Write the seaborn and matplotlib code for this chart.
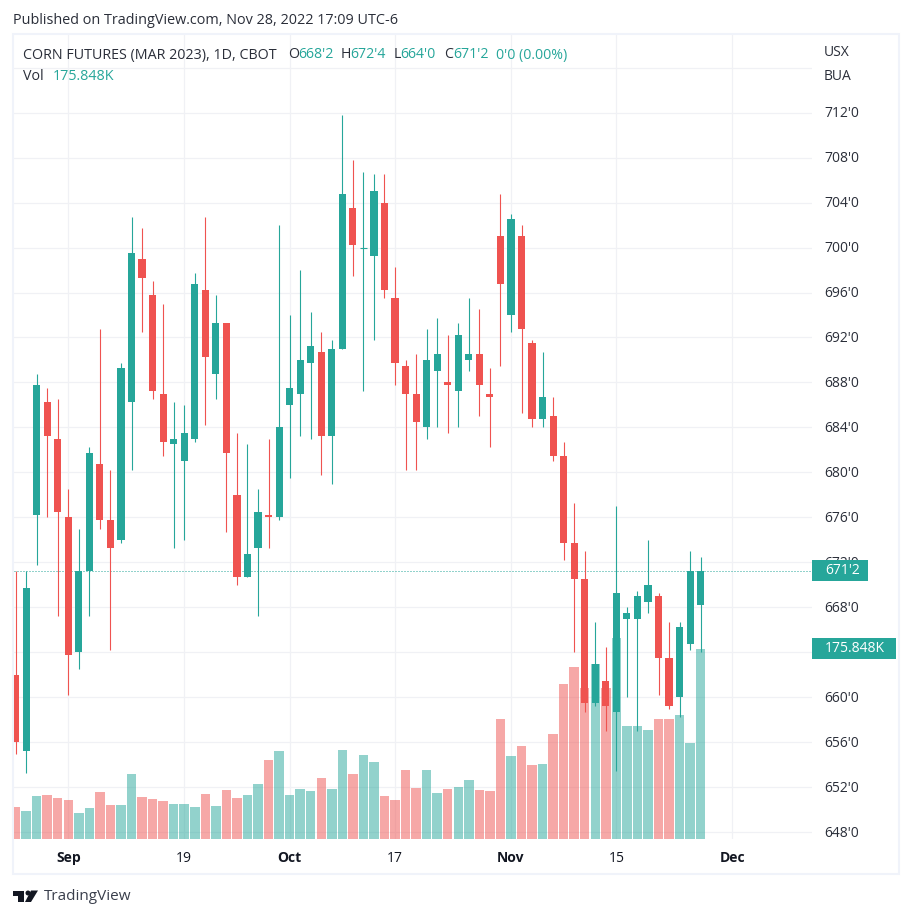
import numpy as np
import pandas as pd
import matplotlib
matplotlib.use("Agg")
import matplotlib.pyplot as plt
from matplotlib.patches import Rectangle, Polygon, Circle
from matplotlib.transforms import IdentityTransform, ScaledTranslation
import seaborn as sns

opens = [662,655.25,676.25,686.25,683,676,664,671.25,680.75,675.75,674,686.25,699,695.75,687,682.5,681,683,696.25,688.75,
         693.25,678,670.75,673.25,676.25,676,686,687,689.75,690.75,683.25,691,703.5,700,699.25,704,695.5,689.5,687,684,
         689,688,687.25,690,690.5,687,701,694,701,691.5,684.75,685,681.5,673.75,670.5,659.5,661.5,658.75,667,667,
         668.5,669,663.5,660,664.75,668.25]
closes = [656,669.75,687.75,683.25,676.5,663.75,671.25,681.75,675.75,673.25,689.25,699.5,697.25,687.25,682.75,683,683.5,696.75,690.25,693.25,
          681.75,670.75,672.75,676.5,676,684,687.5,690,691.25,683.25,691,704.75,700.25,700,705,696.25,689.75,687,684.5,690,
          690.5,687.75,692.25,690.5,687.75,686.75,696.75,702.5,692.75,684.75,686.75,681.5,673.75,670.5,659.5,663,659.25,669.25,667.5,669,
          670,663.5,659.25,666.25,671.25,671.25]
highs = [671.25,671.25,688.75,687.5,686.5,678.5,675,682.25,692.75,680.25,689.75,702.75,701.75,697,695,686.25,686,697.75,702.75,695.75,
         693.25,683.5,682.5,678.5,683,702,694,698,694.25,692.5,691.75,711.75,707.75,706.75,706.5,706.5,698.25,690,690.5,692.75,
         693.75,692.25,693.25,695.5,694.5,689.25,704.75,703,702,691.75,690.75,686.75,682.75,677.25,673,666.75,664.5,677,668,669.5,
         674,669.25,666.75,666.75,673,672.5]
lows = [655,653.25,671.75,676,667.25,660.25,662.5,667.25,675,664.25,673.75,680.25,692.5,686.5,681.5,673.25,674,682.75,684.25,686.5,
        674.75,670,670.75,667.25,673.25,675.75,679.5,683.25,683,679.75,679,691,697.5,687.25,691.75,695.5,687.75,680.25,680.25,683,
        684,683.5,684,689,685,682.25,689.5,692.5,685.25,684,684,681,672.25,664,658.75,659.25,657,653.5,660,657,
        667.5,660.25,659,658.25,664.25,664]
volumes_k = [29.6,25.9,39.8,40.7,37.9,36.1,24.1,28.7,43.5,31.5,31.5,60.2,38.9,37.0,35.2,32.4,32.4,29.6,41.6,30.5,
             45.3,37.9,40.7,50.9,73.1,81.4,40.7,46.3,44.4,56.5,46.3,82.4,60.2,77.7,71.3,39.8,36.1,63.9,47.2,63.9,
             42.6,46.3,48.1,54.6,45.3,44.4,111.1,76.8,86.1,68.5,69.4,97.2,143.5,159.2,139.8,162,139.8,186,104.6,104.6,
             100.9,111.1,111.1,114.8,88.8,175.848]

tick_index = [5, 16, 26, 36, 47, 57, 68]
tick_text = ["Sep", "19", "Oct", "17", "Nov", "15", "Dec"]
tick_bold = [True, False, True, False, True, False, True]
price_ticks = list(range(648, 717, 4))
hidden_price_labels = [716, 664]
last_price = 671.25
last_volume = 175.848

UP, DOWN = "#26a69a", "#ef5350"
INK, GRID, BORDER = "#131722", "#f0f1f5", "#f0f3fa"
TEXT = "#2a2e39"
FONT = ["Open Sans", "DejaVu Sans"]
W, H = 912, 918

sns.set_theme(style="white")
plt.rcParams["font.family"] = FONT

df = pd.DataFrame({"i": np.arange(len(opens)), "open": opens, "close": closes,
                   "high": highs, "low": lows, "vol": volumes_k})
df["dir"] = np.where(df["close"] >= df["open"], "up", "down")
colors = df["dir"].map({"up": UP, "down": DOWN}).tolist()

fig = plt.figure(figsize=(W / 100, H / 100), dpi=100, facecolor="white")
rect = [14 / W, 1 - 839 / H, (812 - 14) / W, (839 - 35) / H]
ax = fig.add_axes(rect, facecolor="none")
axv = ax.twinx()
axc = ax.twinx()

xlim = (-0.15, 75.56)
ylim = (647.42, 718.89)

# volume pane
sns.barplot(data=df, x="i", y="vol", hue="dir", palette={"up": UP, "down": DOWN},
            native_scale=True, dodge=False, width=0.9, saturation=1, alpha=0.5,
            errorbar=None, legend=False, ax=axv, linewidth=0)
axv.set_ylim(0, 744)
axv.set_ylabel("")
axv.set_xlabel("")
axv.set_yticks([])

# candles
body_bottom = df[["open", "close"]].min(axis=1)
body_height = (df["close"] - df["open"]).abs()
axc.axhline(last_price, color=UP, lw=0.72, ls=(0, (1, 2)), zorder=1)
wicks = axc.vlines(df["i"], df["low"], df["high"], colors=colors, lw=0.8, zorder=2)
axc.bar(df["i"], body_height, bottom=body_bottom, width=0.68, color=colors, zorder=3, linewidth=0)
doji = df[df["open"] == df["close"]]
axc.hlines(doji["open"], doji["i"] - 0.34, doji["i"] + 0.34, color=UP, lw=0.8, zorder=3)
axc.set_ylim(*ylim)
axc.set_yticks([])

# price scale, grid and time scale
ax.set_ylim(*ylim)
ax.set_yticks(price_ticks)
ax.set_yticklabels(["" if p in hidden_price_labels else f"{p}'0" for p in price_ticks])
ax.yaxis.tick_right()
ax.set_xticks(tick_index)
ax.set_xticklabels(tick_text)
for lab, b in zip(ax.get_xticklabels(), tick_bold):
    lab.set_fontweight("bold" if b else "normal")
ax.tick_params(axis="y", length=0, pad=9, labelsize=10, labelcolor=TEXT)
ax.tick_params(axis="x", length=0, pad=8.5, labelsize=10, labelcolor=INK)
ax.grid(True, color=GRID, lw=0.9)
ax.set_axisbelow(True)
lift = ScaledTranslation(0, 1 / 100, fig.dpi_scale_trans)
for lab in ax.get_yticklabels():
    lab.set_transform(lab.get_transform() + lift)
for a in (ax, axv, axc):
    a.set_xlim(*xlim)
    a.set_facecolor("none")
    for s in a.spines.values():
        s.set_visible(False)
axv.tick_params(axis="x", labelbottom=False, length=0)
axc.tick_params(axis="x", labelbottom=False, length=0)

def txt(x, y, s, color=INK, size=10, **kw):
    fig.text(x / W, 1 - (y + 1) / H, s, color=color, fontsize=size, va="center", ha="left", **kw)

# frame
fig.add_artist(Rectangle((13 / W, 1 - 874 / H), 886 / W, 840 / H, transform=fig.transFigure,
                         fill=False, ec=BORDER, lw=1.5, zorder=-1))

# last value tags
def tag(value, axis, x1, label):
    y = axis.transData.transform((0, value))[1]
    fig.add_artist(Rectangle((812, y - 10.5), x1 - 812, 21, transform=IdentityTransform(),
                             fc=UP, ec="none", zorder=5))
    fig.text(825 / W, y / H, label, color="white", fontsize=10, va="center", ha="left", zorder=6)

tag(last_price, ax, 868, "671'2")
tag(last_volume, axv, 896, "175.848K")

# header and legend
txt(13, 19, "Published on TradingView.com, Nov 28, 2022 17:09 UTC-6", color=TEXT, size=10.35)
txt(23, 54, "CORN FUTURES (MAR 2023), 1D, CBOT", size=10.3, color=TEXT)
for x, s, c in [(288, "O", TEXT), (298, "668'2", UP), (340.5, "H", TEXT), (350.5, "672'4", UP),
                (394, "L", TEXT), (400.5, "664'0", UP), (444, "C", TEXT), (453, "671'2", UP),
                (496, "0'0 (0.00%)", UP)]:
    txt(x, 54, s, color=c, size=10.2)
txt(23, 75, "Vol", size=10.3, color=TEXT)
txt(52.5, 75, "175.848K", color=UP, size=10.4)
txt(824, 51, "USX", size=10, color=TEXT)
txt(824, 75, "BUA", size=10, color=TEXT)

# footer logo and wordmark
def px(pts):
    return [(x / W, 1 - y / H) for x, y in pts]
for pts in ([(13, 890.5), (24, 890.5), (24, 902), (18, 902), (18, 895.5), (13, 895.5)],
            [(31, 902), (38, 890.5), (31, 890.5), (25, 902)]):
    fig.add_artist(Polygon(px(pts), transform=fig.transFigure, fc=INK, ec="none"))
fig.add_artist(Circle((28, H - 893), 2.5, transform=IdentityTransform(), fc=INK, ec="none"))
txt(44, 895, "TradingView", color="#3a3f4c", size=11)

fig.savefig("out.png", dpi=100, facecolor="white")
